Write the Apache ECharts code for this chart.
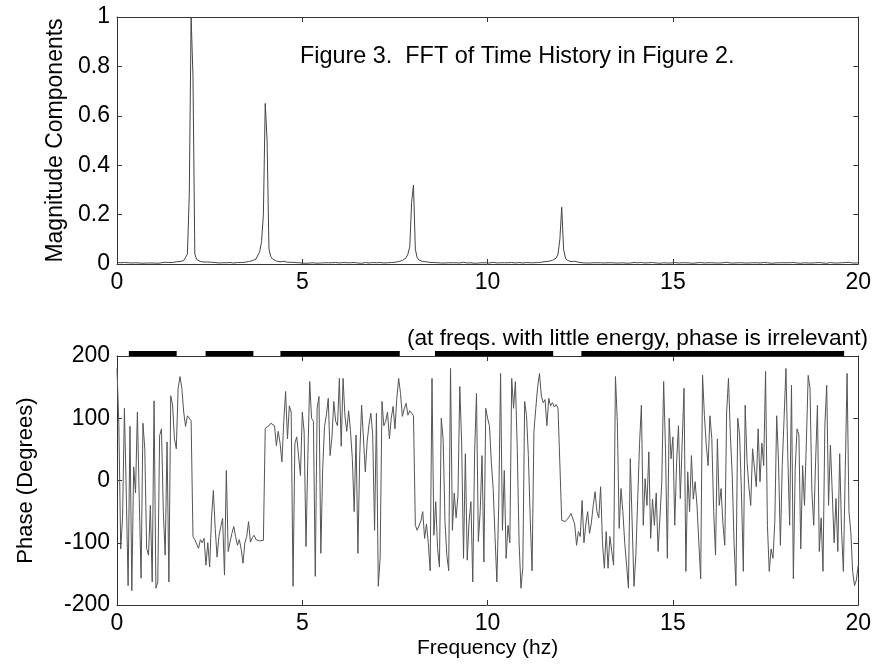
<!DOCTYPE html>
<html>
<head>
<meta charset="utf-8">
<script src="https://cdn.jsdelivr.net/npm/echarts@6/dist/echarts.min.js"></script>
<style>
html,body{margin:0;padding:0;background:#fff;}
#chart{width:874px;height:664px;}
</style>
</head>
<body>
<div id="chart"></div>
<script>
// Frequency grid (Hz)
const freqStart = 0;
const freqStep = 0.05;

// Magnitude components, one value per frequency bin (0 .. 20 Hz)
const magnitude = [
  0.006,0.004,0.005,0.003,0.006,0.004,0.005,0.007,0.004,0.003,0.005,0.006,0.004,0.005,0.003,0.006,0.004,0.005,0.004,0.006,
  0.004,0.005,0.003,0.006,0.005,0.004,0.007,0.005,0.006,0.008,0.006,0.007,0.009,0.008,0.010,0.011,0.014,0.020,0.040,0.280,
  1.000,0.760,0.040,0.018,0.012,0.010,0.009,0.008,0.007,0.008,0.006,0.007,0.005,0.006,0.005,0.004,0.006,0.005,0.004,0.005,
  0.004,0.006,0.005,0.004,0.005,0.006,0.007,0.006,0.008,0.007,0.009,0.010,0.011,0.013,0.016,0.020,0.028,0.050,0.090,0.200,
  0.650,0.500,0.060,0.030,0.020,0.014,0.012,0.010,0.009,0.008,0.011,0.009,0.007,0.006,0.007,0.005,0.006,0.004,0.005,0.006,
  0.004,0.005,0.003,0.005,0.004,0.006,0.005,0.004,0.003,0.005,0.004,0.006,0.005,0.004,0.005,0.007,0.005,0.004,0.006,0.005,
  0.004,0.005,0.006,0.004,0.005,0.003,0.005,0.004,0.006,0.005,0.004,0.005,0.003,0.004,0.006,0.005,0.004,0.005,0.006,0.004,
  0.005,0.004,0.006,0.005,0.004,0.006,0.005,0.007,0.006,0.008,0.007,0.009,0.010,0.012,0.014,0.018,0.025,0.040,0.070,0.250,
  0.320,0.060,0.025,0.016,0.012,0.010,0.008,0.009,0.007,0.006,0.005,0.006,0.004,0.005,0.006,0.004,0.005,0.004,0.006,0.005,
  0.004,0.005,0.003,0.005,0.006,0.004,0.005,0.007,0.005,0.004,0.006,0.005,0.004,0.003,0.005,0.004,0.006,0.005,0.004,0.005,
  0.006,0.004,0.005,0.007,0.005,0.004,0.006,0.005,0.004,0.005,0.003,0.005,0.004,0.006,0.005,0.004,0.005,0.006,0.005,0.004,
  0.005,0.006,0.004,0.005,0.006,0.005,0.007,0.006,0.008,0.007,0.009,0.010,0.012,0.011,0.013,0.015,0.018,0.024,0.040,0.100,
  0.230,0.060,0.024,0.015,0.012,0.010,0.009,0.011,0.008,0.007,0.006,0.005,0.006,0.004,0.005,0.004,0.006,0.005,0.004,0.005,
  0.004,0.005,0.003,0.004,0.006,0.005,0.004,0.005,0.003,0.004,0.005,0.004,0.006,0.005,0.004,0.003,0.005,0.004,0.005,0.006,
  0.004,0.005,0.004,0.006,0.005,0.004,0.003,0.005,0.004,0.006,0.005,0.004,0.005,0.003,0.004,0.005,0.006,0.004,0.005,0.004,
  0.005,0.006,0.005,0.004,0.007,0.005,0.004,0.005,0.006,0.004,0.005,0.003,0.004,0.005,0.004,0.006,0.005,0.004,0.003,0.005,
  0.004,0.005,0.006,0.004,0.005,0.004,0.003,0.005,0.006,0.007,0.005,0.004,0.005,0.004,0.006,0.005,0.004,0.005,0.003,0.004,
  0.005,0.004,0.006,0.005,0.004,0.005,0.003,0.004,0.005,0.006,0.004,0.005,0.004,0.003,0.005,0.004,0.006,0.005,0.004,0.005,
  0.004,0.005,0.003,0.005,0.004,0.006,0.005,0.004,0.005,0.003,0.004,0.005,0.006,0.004,0.005,0.004,0.003,0.005,0.004,0.006,
  0.005,0.004,0.005,0.003,0.004,0.006,0.005,0.004,0.005,0.004,0.003,0.005,0.004,0.006,0.005,0.007,0.005,0.004,0.005,0.004,
  0.005
];

// Phase in degrees, one value per frequency bin (0 .. 20 Hz)
const phase = [
  180,90,-110,-60,116,-20,-169,87,-177,22,-20,110,-29,-157,92,51,-109,-120,-40,-163,
  128,-173,-163,72,83,-50,-120,62,-163,136,121,67,51,148,167,148,110,87,104,100,
  96,-90,-95,-98,-109,-95,-100,-93,-136,-100,-139,-60,-16,-77,-123,-90,-74,-61,-152,16,
  -114,-99,-85,-74,-90,-104,-95,-110,-133,-100,-90,-66,-99,-92,-88,-95,-92,-97,-99,-96,
  84,86,88,92,95,88,56,79,60,30,95,143,67,120,110,-170,60,70,73,8,
  110,78,-106,40,159,100,95,-154,116,135,-117,19,87,105,132,40,70,127,95,88,
  164,55,164,104,79,112,80,35,-50,73,-117,40,121,124,14,62,90,108,73,-80,
  108,-170,-125,127,88,95,110,67,100,119,83,132,164,140,103,115,124,105,112,108,
  104,-72,-80,-77,-65,-50,-93,-70,-100,-145,164,-88,-34,-109,-139,100,67,-66,-120,-145,
  180,-80,-20,-60,-24,151,60,-125,43,-128,-66,-34,-163,46,140,-98,-50,40,-131,116,
  100,88,30,-13,-90,-163,-40,172,-80,16,-125,-72,-100,164,116,159,51,-100,-173,-140,
  127,104,40,-61,-145,79,116,150,172,136,125,130,88,132,120,125,118,122,116,118,
  -64,-62,-66,-64,-58,-53,-56,-70,-104,-82,-90,-32,-100,-70,-50,-85,-68,-40,-18,-50,
  -60,-10,-100,-141,-82,-141,-90,-114,-136,167,95,-77,-13,-50,-100,-136,-173,35,33,-170,
  -120,-30,60,121,-72,3,-40,46,-93,-30,-72,-20,-114,-60,-2,159,51,-125,100,35,
  70,-72,30,88,-29,60,148,-146,14,-50,40,-30,-2,-40,-100,-158,169,104,57,24,
  104,67,-50,-120,67,-40,-13,-70,-104,110,164,73,10,-100,-169,100,73,-20,-146,121,
  30,-10,-40,51,20,-10,83,-2,60,24,175,-72,-146,-110,-125,-66,104,30,-104,24,
  100,180,40,-72,153,-158,20,83,73,-110,24,-40,60,169,148,-18,-72,30,121,-114,
  -60,-146,88,153,-40,57,-20,-100,-29,-114,43,-80,-146,14,172,-50,-82,-146,-169,-160,
  -136
];

// Frequency bands marked with black bars (start, end in Hz)
const barStart = [0.32, 2.39, 4.41, 8.58, 12.53];
const barEnd   = [1.61, 3.68, 7.63, 11.77, 19.62];
const barLevel = 204;

// Tick settings
const xTicks = {min: 0, max: 20, interval: 5};
const magTicks = {min: 0, max: 1, interval: 0.2};
const phaseTicks = {min: -200, max: 200, interval: 100};

const titleText = 'Figure 3.  FFT of Time History in Figure 2.';
const noteText = '(at freqs. with little energy, phase is irrelevant)';

const FONT = '"Liberation Sans", Arial, Helvetica, sans-serif';
const FRAME = '#333';

const magPairs = magnitude.map((v, i) => [freqStart + i * freqStep, v]);
const phasePairs = phase.map((v, i) => [freqStart + i * freqStep, v]);
const barLines = barStart.map((s, i) => ({coords: [[s, barLevel], [barEnd[i], barLevel]]}));

function xAx(gridIndex, pos, labels, name) {
  return {
    type: 'value', gridIndex: gridIndex, position: pos,
    min: xTicks.min, max: xTicks.max, interval: xTicks.interval,
    axisLine: {show: true, onZero: false, lineStyle: {color: FRAME, width: 1}},
    axisTick: {show: true, inside: true, length: 5, lineStyle: {color: FRAME}},
    axisLabel: {show: labels, color: '#000', fontSize: 23, fontFamily: FONT, margin: 7},
    splitLine: {show: false},
    name: name || '', nameLocation: 'middle', nameGap: 33,
    nameTextStyle: {color: '#000', fontSize: 21, fontFamily: FONT}
  };
}
function yAx(gridIndex, pos, t, labels, name, gap, nameSize) {
  return {
    type: 'value', gridIndex: gridIndex, position: pos,
    min: t.min, max: t.max, interval: t.interval,
    axisLine: {show: true, onZero: false, lineStyle: {color: FRAME, width: 1}},
    axisTick: {show: true, inside: true, length: 5, lineStyle: {color: FRAME}},
    axisLabel: {show: labels, color: '#000', fontSize: 23, fontFamily: FONT, margin: 7},
    splitLine: {show: false},
    name: name || '', nameLocation: 'middle', nameGap: gap || 0, nameRotate: 90,
    nameTextStyle: {color: '#000', fontSize: nameSize || 22, fontFamily: FONT}
  };
}

const chart = echarts.init(document.getElementById('chart'), null, {renderer: 'canvas'});
chart.setOption({
  animation: false,
  backgroundColor: '#fff',
  grid: [
    {left: 117, right: 13, top: 17, height: 247},
    {left: 117, right: 13, top: 356, height: 249}
  ],
  xAxis: [
    xAx(0, 'bottom', true),
    xAx(0, 'top', false),
    xAx(1, 'bottom', true, 'Frequency (hz)'),
    xAx(1, 'top', false)
  ],
  yAxis: [
    yAx(0, 'left', magTicks, true, 'Magnitude Components', 42, 23),
    yAx(0, 'right', magTicks, false),
    yAx(1, 'left', phaseTicks, true, 'Phase (Degrees)', 80, 22),
    yAx(1, 'right', phaseTicks, false)
  ],
  graphic: [
    {type: 'text', left: 300, top: 45, style: {text: titleText, fill: '#000', font: '23.4px ' + FONT}},
    {type: 'text', right: 6, top: 327, style: {text: noteText, fill: '#000', font: '22.7px ' + FONT}}
  ],
  series: [
    {type: 'line', xAxisIndex: 0, yAxisIndex: 0, data: magPairs, showSymbol: false, symbol: 'none',
     sampling: 'none', lineStyle: {color: '#444', width: 1}},
    {type: 'line', xAxisIndex: 2, yAxisIndex: 2, data: phasePairs, showSymbol: false, symbol: 'none',
     sampling: 'none', lineStyle: {color: '#555', width: 1}},
    {type: 'lines', coordinateSystem: 'cartesian2d', xAxisIndex: 2, yAxisIndex: 2, clip: false,
     data: barLines, lineStyle: {color: '#000', width: 5, opacity: 1}, silent: true}
  ]
});
</script>
</body>
</html>
